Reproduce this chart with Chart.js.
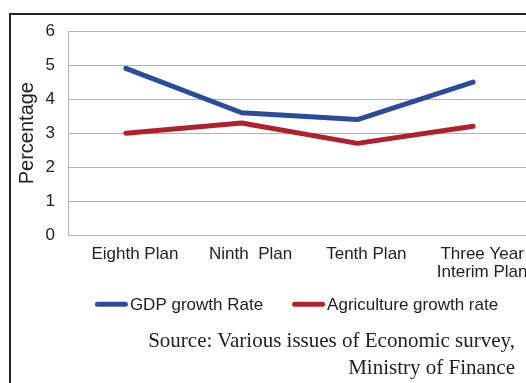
<!DOCTYPE html>
<html>
<head>
<meta charset="utf-8">
<script src="https://cdn.jsdelivr.net/npm/chart.js@4/dist/chart.umd.min.js"></script>
<style>
  body { margin: 0; background: #fff; width: 526px; height: 383px; overflow: hidden; position: relative; }
  #frame { position: absolute; left: 9px; top: 13px; width: 600px; height: 400px;
           border-left: 2px solid #222; border-top: 2px solid #222; }
  #chart-box { position: absolute; left: 0; top: 0; width: 560px; height: 383px; }
  #source { position: absolute; right: 11px; top: 327px; text-align: right;
            font-family: "Liberation Serif", serif; font-size: 21px; line-height: 27px; color: #222; }
</style>
</head>
<body>
<div id="frame"></div>
<div id="chart-box"><canvas id="growth-chart"></canvas></div>
<div id="source">Source: Various issues of Economic survey,<br>Ministry of Finance</div>
<script>
const plans = ['Eighth Plan', 'Ninth  Plan', 'Tenth Plan', ['Three Year', 'Interim Plan']];
const gdpGrowth = [4.9, 3.6, 3.4, 4.5];
const agriGrowth = [3.0, 3.3, 2.7, 3.2];
const yTicks = [0, 1, 2, 3, 4, 5, 6];

const blue = '#2b4c9b';
const red = '#b0202d';
const gridGray = '#b3b3b3';
const textColor = '#222';
const fontFamily = '"Liberation Sans", Arial, sans-serif';

Chart.defaults.font.family = fontFamily;
Chart.defaults.color = textColor;

// legend with the text sitting right after the line, like the original
const lineLegend = {
    id: 'lineLegend',
    afterDraw(chart) {
        const ctx = chart.ctx;
        const area = chart.chartArea;
        const lineLen = 33, textGap = 2, itemGap = 29;
        ctx.save();
        ctx.font = '17px ' + fontFamily;
        const items = chart.data.datasets.map(ds => ({
            text: ds.label,
            color: ds.borderColor,
            width: lineLen + textGap + ctx.measureText(ds.label).width
        }));
        const total = items.reduce((s, it) => s + it.width, 0) + itemGap * (items.length - 1);
        let x = (area.left + area.right) / 2 - total / 2 - 3;
        const y = area.bottom + 69;
        ctx.textBaseline = 'middle';
        for (let it of items) {
            ctx.strokeStyle = it.color;
            ctx.lineWidth = 5;
            ctx.lineCap = 'round';
            ctx.beginPath();
            ctx.moveTo(x + 2.5, y);
            ctx.lineTo(x + lineLen - 2.5, y);
            ctx.stroke();
            ctx.fillStyle = textColor;
            ctx.fillText(it.text, x + lineLen + textGap, y + 1);
            x += it.width + itemGap;
        }
        ctx.restore();
    }
};

const growthChart = new Chart(document.getElementById('growth-chart'), {
    type: 'line',
    data: {
        labels: plans,
        datasets: [{
            label: 'GDP growth Rate',
            data: gdpGrowth,
            borderColor: blue,
            backgroundColor: blue,
            borderWidth: 5,
            borderCapStyle: 'round',
            borderJoinStyle: 'round',
            pointRadius: 0,
            tension: 0
        }, {
            label: 'Agriculture growth rate',
            data: agriGrowth,
            borderColor: red,
            backgroundColor: red,
            borderWidth: 5,
            borderCapStyle: 'round',
            borderJoinStyle: 'round',
            pointRadius: 0,
            tension: 0
        }]
    },
    options: {
        responsive: true,
        maintainAspectRatio: false,
        animation: false,
        layout: { padding: { left: 0, right: 29, top: 31, bottom: 92 } },
        scales: {
            x: {
                offset: true,
                grid: { display: false, drawTicks: false },
                border: { display: true, color: gridGray, width: 1 },
                ticks: { font: { size: 17, lineHeight: 1.05 }, padding: 10, labelOffset: 9, maxRotation: 0, autoSkip: false }
            },
            y: {
                min: yTicks[0],
                max: yTicks[yTicks.length - 1],
                afterBuildTicks: scale => { scale.ticks = yTicks.map(v => ({ value: v })); },
                afterFit: scale => { scale.width = 68; },
                grid: { color: gridGray, lineWidth: 1, drawTicks: false },
                border: { display: true, color: gridGray, width: 1 },
                ticks: { font: { size: 17 }, padding: 13 },
                title: { display: true, text: 'Percentage', font: { size: 20 }, padding: { top: 15, bottom: 0 } }
            }
        },
        plugins: {
            tooltip: { enabled: false },
            legend: { display: false }
        }
    },
    plugins: [lineLegend]
});
</script>
</body>
</html>
